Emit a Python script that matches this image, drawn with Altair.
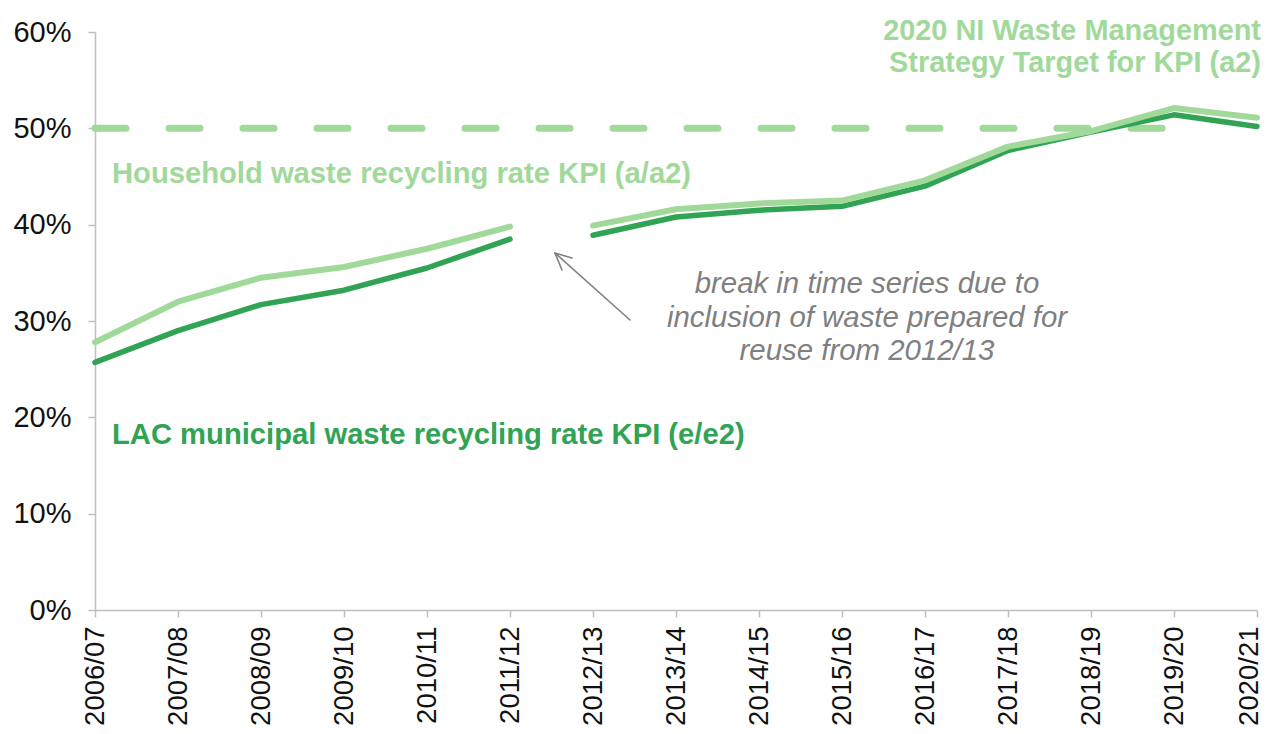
import altair as alt
import pandas as pd

years = ["2006/07", "2007/08", "2008/09", "2009/10", "2010/11", "2011/12", "2012/13",
         "2013/14", "2014/15", "2015/16", "2016/17", "2017/18", "2018/19", "2019/20", "2020/21"]
household = [27.8, 32.0, 34.5, 35.6, 37.5, 39.8, 39.9, 41.6, 42.2, 42.5, 44.6, 48.1, 49.7, 52.1, 51.1]
lac = [25.7, 29.0, 31.7, 33.2, 35.5, 38.5, 38.9, 40.8, 41.5, 41.9, 44.0, 47.7, 49.6, 51.4, 50.2]
period = ["before"] * 6 + ["after"] * 9
target_years = years[:14]
target_value = [50.0] * 14
y_ticks = [0, 10, 20, 30, 40, 50, 60]

LIGHT = "#a1d99b"
DARK = "#31a354"
GREY = "#808080"
FONT = "Liberation Sans"

df = pd.DataFrame({"year": years, "household": household, "lac": lac, "period": period})
tdf = pd.DataFrame({"year": target_years, "value": target_value})

xscale = alt.Scale(type="point", domain=years, padding=0)
yscale = alt.Scale(domain=[0, 60], nice=False)

x_axis = alt.Axis(
    title=None, labelAngle=-90, labelFontSize=27.5, labelPadding=9, tickSize=7, grid=False,
    labelOffset={"condition": {"test": "datum.label == '2020/21'", "value": -8}, "value": 0},
)
y_axis = alt.Axis(title=None, values=y_ticks, labelExpr="datum.value + '%'",
                  labelFontSize=29, labelPadding=17, tickSize=7, grid=False)

target = alt.Chart(tdf).mark_line(
    color=LIGHT, strokeWidth=7, strokeDash=[31, 43], strokeCap="round"
).encode(
    x=alt.X("year:O", scale=xscale, axis=x_axis),
    y=alt.Y("value:Q", scale=yscale, axis=y_axis),
)

dark = alt.Chart(df).mark_line(
    color=DARK, strokeWidth=5.5, strokeCap="round", strokeJoin="round"
).encode(
    x=alt.X("year:O", scale=xscale),
    y=alt.Y("lac:Q", scale=yscale),
    detail="period:N",
)

light = alt.Chart(df).mark_line(
    color=LIGHT, strokeWidth=6, strokeCap="round", strokeJoin="round"
).encode(
    x=alt.X("year:O", scale=xscale),
    y=alt.Y("household:Q", scale=yscale),
    detail="period:N",
)

one = pd.DataFrame({"k": [0]})


def label(text, x, y, color, align="left", bold=True, italic=False, lh=32, size=29.2):
    return alt.Chart(one).mark_text(
        text=text, align=align, baseline="alphabetic", font=FONT, fontSize=size,
        fontWeight="bold" if bold else "normal",
        fontStyle="italic" if italic else "normal",
        color=color, lineHeight=lh,
    ).encode(x=alt.value(x), y=alt.value(y))


t_title = label(["2020 NI Waste Management", "Strategy Target for KPI (a2)"], 1166, 8, LIGHT,
                align="right", lh=32, size=28.9)
t_house = label("Household waste recycling rate KPI (a/a2)", 17, 151, LIGHT)
t_lac = label("LAC municipal waste recycling rate KPI (e/e2)", 17, 412, DARK)
t_note = label(["break in time series due to", "inclusion of waste prepared for",
                "reuse from 2012/13"], 772, 261, GREY, align="center", bold=False,
               italic=True, lh=33.5, size=29.4)


def seg(x1, y1, x2, y2):
    return alt.Chart(one).mark_rule(color=GREY, strokeWidth=1.6, strokeCap="round").encode(
        x=alt.value(x1), y=alt.value(y1), x2=alt.value(x2), y2=alt.value(y2)
    )


arrow = seg(535, 288, 460, 221) + seg(460, 221, 477, 226) + seg(460, 221, 467, 238)

chart = alt.layer(
    target, dark, light, t_title, t_house, t_lac, t_note, arrow
).properties(
    width=1162, height=578,
    autosize=alt.AutoSizeParams(type="none"),
    padding={"left": 87, "top": 24, "right": 8, "bottom": 116},
).configure_view(stroke=None).configure_axis(
    domainColor="#bfbfbf", tickColor="#bfbfbf", domainWidth=1.5, tickWidth=1.5,
    labelFont=FONT, labelColor="#111111",
)

chart.save("out.html", embed_options={"renderer": "svg", "actions": False})
